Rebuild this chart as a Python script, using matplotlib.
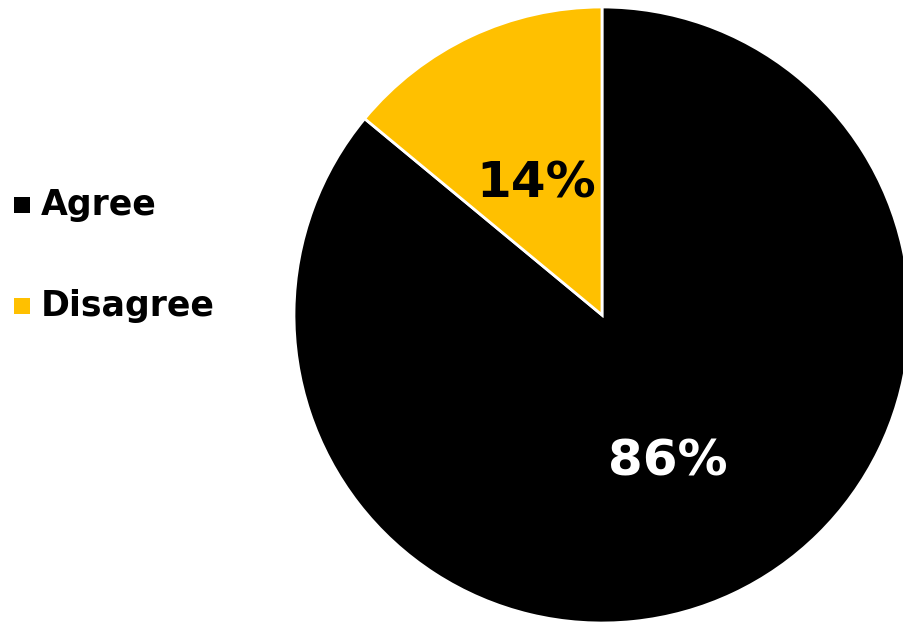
import matplotlib.pyplot as plt
from matplotlib.patches import Rectangle

# data
labels = ["Agree", "Disagree"]
values = [86, 14]
colors = ["#000000", "#FFC000"]
pct_colors = ["white", "black"]

fig = plt.figure(figsize=(9.04, 6.22), dpi=100)

# pie axes, centre around (602, 315) px, radius ~308 px
ax = fig.add_axes([294 / 904, -1 / 622, 616 / 904, 616 / 622])
wedges, texts, autotexts = ax.pie(
    values,
    colors=colors,
    startangle=90,
    counterclock=False,
    autopct="%.0f%%",
    pctdistance=0.5,
    wedgeprops=dict(edgecolor="white", linewidth=2),
)
for t, c in zip(autotexts, pct_colors):
    t.set_color(c)
    t.set_fontsize(36)
    t.set_fontweight("bold")
    x, y = t.get_position()
    t.set_position((x, y - 0.024))  # nudge down a little
ax.set_xlim(-1, 1)
ax.set_ylim(-1, 1)
ax.set_aspect("equal")
ax.axis("off")

# legend drawn by hand on the left
legend_y = [205, 306]
for lab, col, y in zip(labels, colors, legend_y):
    fig.patches.append(Rectangle((14 / 904, 1 - (y + 8) / 622), 16 / 904, 16 / 622,
                                 transform=fig.transFigure, facecolor=col, edgecolor="none"))
    fig.text(41 / 904, 1 - y / 622, lab, fontsize=25, fontweight="bold",
             va="center", ha="left", color="black")

fig.savefig("out.png", dpi=100)
